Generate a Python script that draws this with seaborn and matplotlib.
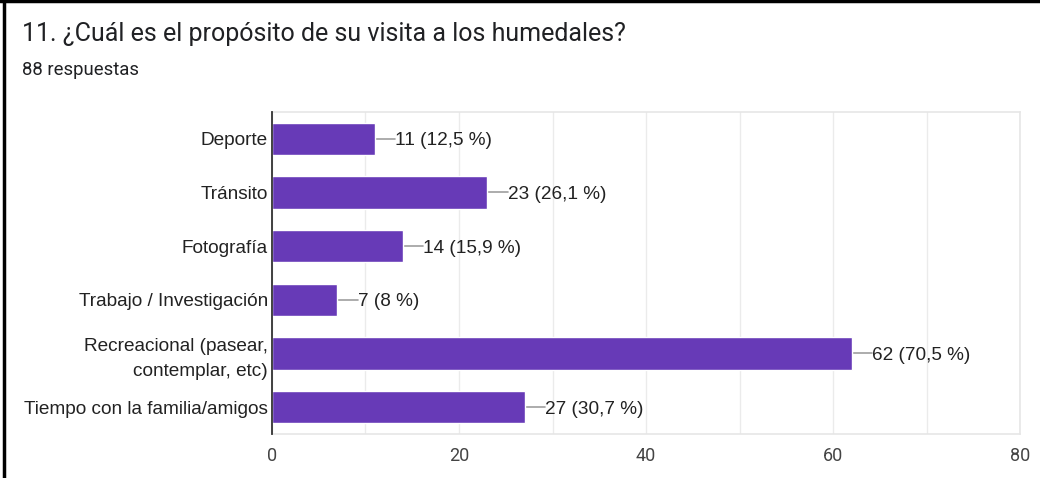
import matplotlib
matplotlib.use("Agg")
import matplotlib.pyplot as plt
import seaborn as sns
import pandas as pd
from matplotlib.lines import Line2D

# Datos
categorias = ["Deporte", "Tránsito", "Fotografía", "Trabajo / Investigación",
              "Recreacional (pasear,\ncontemplar, etc)", "Tiempo con la familia/amigos"]
respuestas = [11, 23, 14, 7, 62, 27]
porcentajes = ["12,5", "26,1", "15,9", "8", "70,5", "30,7"]
x_ticks = [0, 20, 40, 60, 80]
titulo = "11. ¿Cuál es el propósito de su visita a los humedales?"
subtitulo = "88 respuestas"

df = pd.DataFrame({"categoria": categorias, "n": respuestas})

sns.set_theme(style="white")
plt.rcParams['font.family'] = ['Roboto', 'DejaVu Sans']
arial = ['Liberation Sans', 'DejaVu Sans']

fig = plt.figure(figsize=(10.4, 4.78), dpi=100)
ax = fig.add_axes([0.2615, 0.092, 0.7195, 0.674])

sns.barplot(data=df, y="categoria", x="n", color="#673ab7", saturation=1,
            width=0.6, orient="h", ax=ax, zorder=3)

# etiquetas con linea guia
for i, (v, p) in enumerate(zip(respuestas, porcentajes)):
    ax.plot([v, v + 2.2], [i, i], color="#9e9e9e", lw=1.2, zorder=2)
    ax.text(v + 2.2, i, f"{v} ({p} %)", va="center_baseline", ha="left",
            fontsize=13.7, color="#222222", family=arial, zorder=4)

ax.set_xlim(0, 80)
ax.set_ylim(5.5, -0.5)
ax.set_xticks(x_ticks)
ax.set_xticks(range(10, 80, 20), minor=True)
ax.grid(axis="x", which="both", color="#ebebeb", lw=1, zorder=0)
ax.set_xlabel("")
ax.set_ylabel("")
ax.tick_params(axis="x", which="both", length=0, labelsize=13, labelcolor="#444444", pad=9)
ax.tick_params(axis="y", length=0, pad=3)
for lab in ax.get_yticklabels():
    lab.set_multialignment("right")
    lab.set_linespacing(1.55)
    lab.set_fontfamily(arial)
    lab.set_fontsize(13.7)
    lab.set_color("#222222")

for s in ["top", "right", "bottom"]:
    ax.spines[s].set_color("#e6e6e6")
    ax.spines[s].set_linewidth(1.2)
ax.spines["left"].set_color("#333333")
ax.spines["left"].set_linewidth(1.3)
ax.spines["left"].set_zorder(5)

fig.text(22 / 1040, 1 - 34 / 478, titulo, fontsize=18, color="#202124", va="center", ha="left")
fig.text(22 / 1040, 1 - 70 / 478, subtitulo, fontsize=13.3, color="#202124", va="center", ha="left")

# marco negro de la captura
fig.add_artist(Line2D([4 / 1040, 4 / 1040], [0, 1], color="black", lw=2.5))
fig.add_artist(Line2D([0, 1], [1 - 1 / 478, 1 - 1 / 478], color="black", lw=2.5))

fig.savefig("out.png", dpi=100, facecolor="white")
